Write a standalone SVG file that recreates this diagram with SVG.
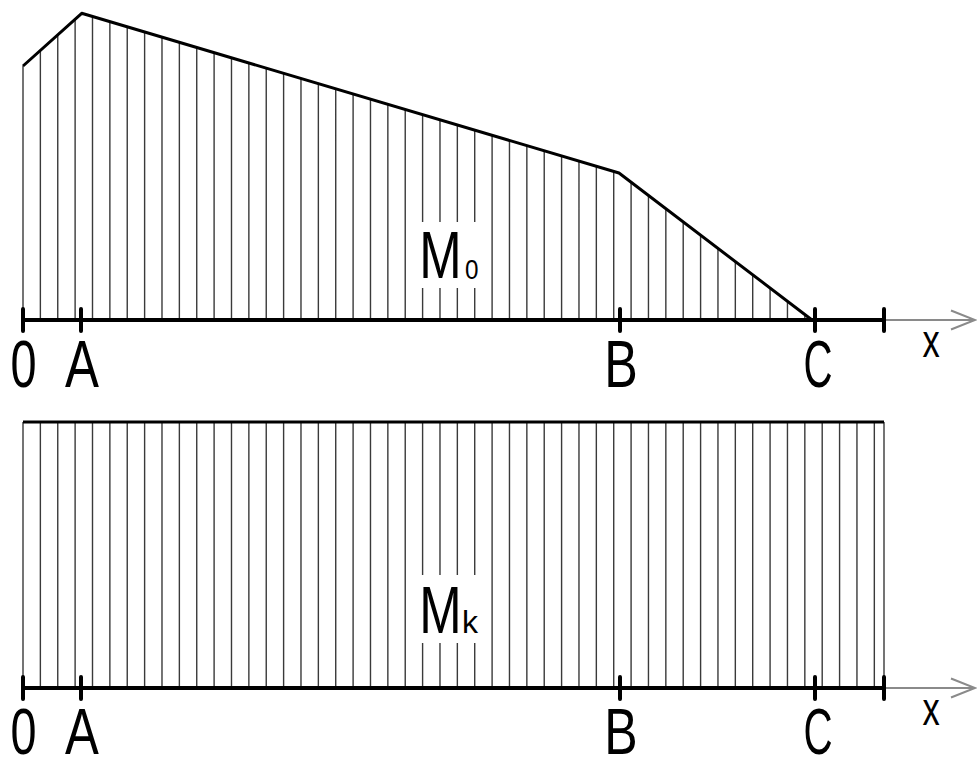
<svg xmlns="http://www.w3.org/2000/svg" width="977" height="758" viewBox="0 0 977 758">
<style>
.h{stroke:#3a3a3a;stroke-width:1.4;fill:none}
.ax{stroke:#000;stroke-width:4;fill:none}
.tk{stroke:#000;stroke-width:4;fill:none;stroke-linecap:round}
.pr{stroke:#000;stroke-width:3;fill:none;stroke-linejoin:round}
.ar{stroke:#8a8a8a;stroke-width:2;fill:none}
.t{font-family:"Liberation Sans",Arial,sans-serif;font-size:67px;fill:#000;text-anchor:middle}
.s{font-family:"Liberation Sans",Arial,sans-serif;fill:#000;text-anchor:start}
</style>
<rect width="977" height="758" fill="#fff"/>
<g id="hatch-top">
<path class="h" d="M23,320V66 M40.37,320V50.4 M57.75,320V34.8 M75.12,320V19.2 M92.5,320V16.5 M109.87,320V21.7 M127.24,320V26.8 M144.62,320V32 M161.99,320V37.2 M179.37,320V42.3 M196.74,320V47.5 M214.11,320V52.7 M231.49,320V57.8 M248.86,320V63 M266.24,320V68.1 M283.61,320V73.3 M300.98,320V78.5 M318.36,320V83.6 M335.73,320V88.8 M353.11,320V94 M370.48,320V99.1 M387.85,320V104.3 M405.23,320V109.5 M422.6,320V288 M422.6,222V114.6 M439.98,320V288 M439.98,222V119.8 M457.35,320V288 M457.35,222V124.9 M474.72,320V288 M474.72,222V130.1 M492.1,320V135.3 M509.47,320V140.4 M526.85,320V145.6 M544.22,320V150.8 M561.59,320V155.9 M578.97,320V161.1 M596.34,320V166.3 M613.72,320V171.4 M631.09,320V182.2 M648.46,320V195.4 M665.84,320V208.7 M683.21,320V221.9 M700.59,320V235.1 M717.96,320V248.4 M735.33,320V261.6 M752.71,320V274.8 M770.08,320V288.1 M787.46,320V301.3 M804.83,320V314.5"/>
</g>
<g id="profile-M0">
<polyline class="pr" points="23,66 81.7,13.3 619,173 812,320"/>
</g>
<g id="hatch-bottom">
<path class="h" d="M23,688V422 M40.37,688V422 M57.75,688V422 M75.12,688V422 M92.5,688V422 M109.87,688V422 M127.24,688V422 M144.62,688V422 M161.99,688V422 M179.37,688V422 M196.74,688V422 M214.11,688V422 M231.49,688V422 M248.86,688V422 M266.24,688V422 M283.61,688V422 M300.98,688V422 M318.36,688V422 M335.73,688V422 M353.11,688V422 M370.48,688V422 M387.85,688V422 M405.23,688V422 M422.6,688V643 M422.6,575V422 M439.98,688V643 M439.98,575V422 M457.35,688V643 M457.35,575V422 M474.72,688V643 M474.72,575V422 M492.1,688V422 M509.47,688V422 M526.85,688V422 M544.22,688V422 M561.59,688V422 M578.97,688V422 M596.34,688V422 M613.72,688V422 M631.09,688V422 M648.46,688V422 M665.84,688V422 M683.21,688V422 M700.59,688V422 M717.96,688V422 M735.33,688V422 M752.71,688V422 M770.08,688V422 M787.46,688V422 M804.83,688V422 M822.2,688V422 M839.58,688V422 M856.95,688V422 M874.33,688V422 M884,688V422"/>
</g>
<g id="profile-Mk">
<path class="pr" d="M23,422H884"/>
</g>
<g id="axis-top">
<path class="ar" d="M884,320H975 M951,310.5L975,320L951,329.5"/>
<path class="ax" d="M23,320H884"/>
<path class="tk" d="M23,309V331 M81,309V331 M620,309V331 M815,309V331 M884,309V331"/>
</g>
<g id="axis-bottom">
<path class="ar" d="M884,688H975 M951,678.5L975,688L951,697.5"/>
<path class="ax" d="M23,688H884"/>
<path class="tk" d="M23,677V699 M81,677V699 M620,677V699 M815,677V699 M884,677V699"/>
</g>
<g id="labels-top">
<text class="t" transform="translate(23.5,387) scale(0.7,1)">0</text>
<text class="t" transform="translate(82,387) scale(0.76,1)">A</text>
<text class="t" transform="translate(621,387) scale(0.75,1)">B</text>
<text class="t" transform="translate(818,387) scale(0.6,1)">C</text>
<text class="t" style="font-size:46px" transform="translate(931,357) scale(0.75,1)">x</text>
</g>
<g id="label-M0">
<text class="t" transform="translate(440.5,278) scale(0.76,1)">M</text>
<text class="s" style="font-size:27px" transform="translate(465,279) scale(0.9,1)">0</text>
</g>
<g id="labels-bottom">
<text class="t" style="font-size:65px" transform="translate(23.5,754) scale(0.72,1)">0</text>
<text class="t" style="font-size:65px" transform="translate(82,754) scale(0.78,1)">A</text>
<text class="t" style="font-size:65px" transform="translate(621,754) scale(0.77,1)">B</text>
<text class="t" style="font-size:65px" transform="translate(818,754) scale(0.62,1)">C</text>
<text class="t" style="font-size:46px" transform="translate(931,725) scale(0.75,1)">x</text>
</g>
<g id="label-Mk">
<text class="t" transform="translate(440.5,633) scale(0.76,1)">M</text>
<text class="s" style="font-size:32px" transform="translate(462,633)">k</text>
</g>
</svg>
